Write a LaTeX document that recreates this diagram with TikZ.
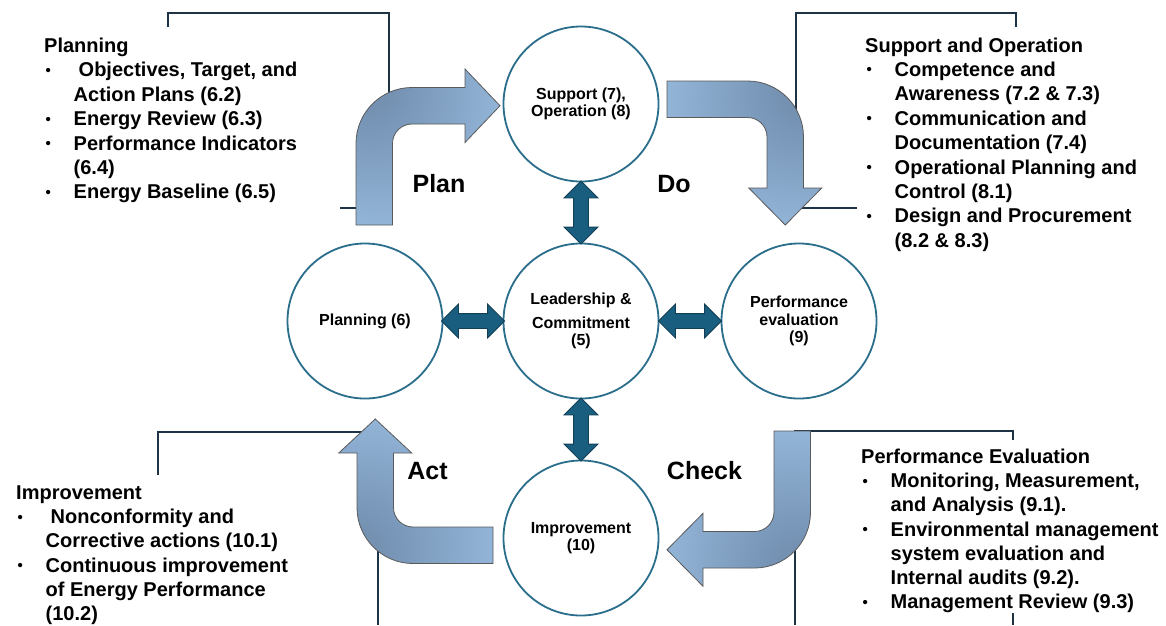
\documentclass[tikz,border=0pt]{standalone}
\usepackage{fontspec}
\setmainfont{Liberation Sans}
\usetikzlibrary{shapes.arrows,calc}
\definecolor{framecol}{HTML}{1E3446}
\definecolor{circcol}{HTML}{2A6E8C}
\definecolor{dblfill}{HTML}{195E7F}
\definecolor{dbldraw}{HTML}{123F55}
\definecolor{arrlight}{HTML}{A3C8EC}
\definecolor{arrdark}{HTML}{7491B2}
\definecolor{arrline}{HTML}{5A5A5A}
\pgfdeclareradialshading{bendshade}{\pgfpoint{-24bp}{24bp}}{color(0bp)=(arrdark); color(10bp)=(arrdark); color(58bp)=(arrlight); color(120bp)=(arrlight)}
\newcommand\pbul{\makebox[29.5pt][l]{\hspace*{1.5pt}\raisebox{1.5pt}{\fontsize{15}{15}\selectfont\textbullet}}}
\newcommand\pind{\hspace*{29.5pt}}
\tikzset{
  frameline/.style={draw=framecol, line width=1.4pt},
  circ/.style={circle, draw=circcol, line width=1.8pt, fill=white, minimum size=155pt, inner sep=0pt, align=center, font=\fontsize{16}{17.5}\selectfont\bfseries},
  dbl/.style={double arrow, double arrow head extend=9.5pt, inner sep=7pt, minimum height=63pt, minimum width=33pt, fill=dblfill, draw=dbldraw, line width=0.8pt, outer sep=0pt},
  bent/.style={shading=bendshade, draw=arrline, line width=0.8pt},
  listtext/.style={anchor=base west, inner sep=0pt, font=\fontsize{20}{24}\selectfont\bfseries},
  biglab/.style={anchor=base, inner sep=0pt, font=\fontsize{25}{30}\selectfont\bfseries}
}
\begin{document}
\begin{tikzpicture}[x=1pt,y=-1pt]
\useasboundingbox (0,0) rectangle (1166,625);
\fill[white] (0,0) rectangle (1166,625);
% frames
\draw[frameline] (168,27) -- (168,13) -- (389,13) -- (389,208) -- (340,208);
\draw[frameline] (1016,27) -- (1016,13) -- (796,13) -- (796,208) -- (857,208);
\draw[frameline] (158,475) -- (158,432) -- (378,432) -- (378,625);
\draw[frameline] (1013,440) -- (1013,431) -- (795,431) -- (795,625);
\draw[frameline] (1013,613) -- (1013,625);
% text blocks
\foreach \t [count=\i] in {Planning, {\pbul\hspace{5pt}Objectives, Target, and}, \pind Action Plans (6.2), \pbul Energy Review (6.3), \pbul Performance Indicators, \pind (6.4), \pbul Energy Baseline (6.5)}
  \node[listtext] (tl\i) at (44,{52.5+24.4*(\i-1)}) {\t};
\foreach \t [count=\i] in {Support and Operation, \pbul Competence and, \pind Awareness (7.2 \& 7.3), \pbul Communication and, \pind Documentation (7.4), \pbul Operational Planning and, \pind Control (8.1), \pbul Design and Procurement, \pind (8.2 \& 8.3)}
  \node[listtext] (tr\i) at (865,{52+24.4*(\i-1)}) {\t};
\foreach \t [count=\i] in {Improvement, \pbul\hspace{5pt}Nonconformity and, \pind Corrective actions (10.1), \pbul Continuous improvement, \pind of Energy Performance, \pind (10.2)}
  \node[listtext] (bl\i) at (16,{499.5+24.2*(\i-1)}) {\t};
\foreach \t [count=\i] in {Performance Evaluation, {\pbul Monitoring, Measurement,}, \pind and Analysis (9.1)., \pbul Environmental management, \pind system evaluation and, \pind Internal audits (9.2)., \pbul Management Review (9.3)}
  \node[listtext] (br\i) at (861,{463.5+24.2*(\i-1)}) {\t};
% bent arrows
\shadedraw[bent, shading angle=0] (356,225) -- (356,143.5) arc[start angle=180, end angle=270, radius=56] -- (465,87.5) -- (465,69) -- (500,105.75) -- (465,142.5) -- (465,124) -- (412,124) arc[start angle=270, end angle=180, radius=19.5] -- (392.5,225) -- cycle;
\shadedraw[bent, shading angle=-90] (667,81) -- (747.5,81) arc[start angle=270, end angle=360, radius=56] -- (803.5,188) -- (821.75,188) -- (785.25,225) -- (748.75,188) -- (767,188) -- (767,137) arc[start angle=0, end angle=-90, radius=19.5] -- (667,117.5) -- cycle;
\shadedraw[bent, shading angle=180] (810.5,431) -- (810.5,512) arc[start angle=0, end angle=90, radius=56] -- (703,568) -- (703,586.25) -- (667,549.75) -- (703,513.25) -- (703,531.5) -- (754.5,531.5) arc[start angle=90, end angle=0, radius=19.5] -- (774,431) -- cycle;
\shadedraw[bent, shading angle=90] (493,563.5) -- (413,563.5) arc[start angle=90, end angle=180, radius=56] -- (357,453) -- (338.75,453) -- (375.25,419) -- (411.75,453) -- (393.5,453) -- (393.5,507.5) arc[start angle=180, end angle=90, radius=19.5] -- (493,527) -- cycle;
% circles
\node[circ] (sup) at (581,104) {Support (7),\\Operation (8)};
\node[circ] (lead) at (581,321) {Leadership \&\\[6pt]Commitment\\(5)};
\node[circ] (plan) at (365,321) {Planning (6)};
\node[circ] (perf) at (799,321) {Performance\\evaluation\\(9)};
\node[circ] (imp) at (581,538) {Improvement\\(10)};
% double arrows
\node[dbl, rotate=90] (da1) at ($(sup.south)!0.5!(lead.north)$) {};
\node[dbl] (da2) at ($(plan.east)!0.5!(lead.west)$) {};
\node[dbl] (da3) at ($(lead.east)!0.5!(perf.west)$) {};
\node[dbl, rotate=90] (da4) at ($(lead.south)!0.5!(imp.north)$) {};
% PDCA labels
\node[biglab] (lplan) at (439,192) {Plan};
\node[biglab] (ldo) at (674,192) {Do};
\node[biglab] (lact) at (427.5,479) {Act};
\node[biglab] (lcheck) at (704.5,479) {Check};
\end{tikzpicture}
\end{document}
